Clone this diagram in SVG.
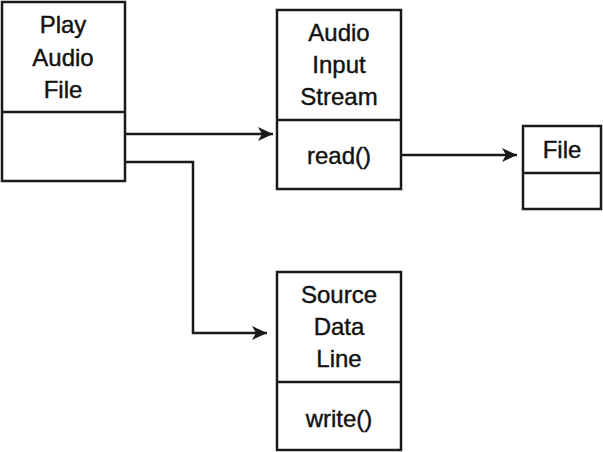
<svg xmlns="http://www.w3.org/2000/svg" width="603" height="452" viewBox="0 0 603 452">
<style>
.box{fill:#fff;stroke:#1a1a1a;stroke-width:2.5}
.div{stroke:#1a1a1a;stroke-width:2.5}
.t{font-family:"Liberation Sans",Arial,sans-serif;font-size:24px;fill:#111;stroke:#111;stroke-width:0.4;text-anchor:middle}
.c{fill:none;stroke:#1a1a1a;stroke-width:2.5}
</style>
<defs>
<marker id="ah" markerUnits="userSpaceOnUse" markerWidth="16" markerHeight="14" refX="15" refY="7" orient="auto">
<path d="M0,0 L15,7 L0,14 L4,7 Z" fill="#1a1a1a"/>
</marker>
</defs>
<g id="connectors">
<path class="c" d="M126,134 H273" marker-end="url(#ah)"/>
<path class="c" d="M126,162 H193 V333 H267" marker-end="url(#ah)"/>
<path class="c" d="M402,155 H517" marker-end="url(#ah)"/>
</g>
<g id="play-audio-file">
<rect class="box" x="2" y="2" width="123" height="179"/>
<line class="div" x1="2" y1="112" x2="125" y2="112"/>
<text class="t" x="63" y="33">Play</text>
<text class="t" x="63" y="66">Audio</text>
<text class="t" x="63" y="98">File</text>
</g>
<g id="audio-input-stream">
<rect class="box" x="277" y="10" width="124" height="179"/>
<line class="div" x1="277" y1="120" x2="401" y2="120"/>
<text class="t" x="339" y="41">Audio</text>
<text class="t" x="339" y="73">Input</text>
<text class="t" x="339" y="105">Stream</text>
<text class="t" x="339" y="164">read()</text>
</g>
<g id="file">
<rect class="box" x="523" y="126" width="78" height="83"/>
<line class="div" x1="523" y1="173" x2="601" y2="173"/>
<text class="t" x="562" y="158">File</text>
</g>
<g id="source-data-line">
<rect class="box" x="277" y="272" width="124" height="178"/>
<line class="div" x1="277" y1="382" x2="401" y2="382"/>
<text class="t" x="339" y="303">Source</text>
<text class="t" x="339" y="335">Data</text>
<text class="t" x="339" y="367">Line</text>
<text class="t" x="339" y="427">write()</text>
</g>
</svg>
